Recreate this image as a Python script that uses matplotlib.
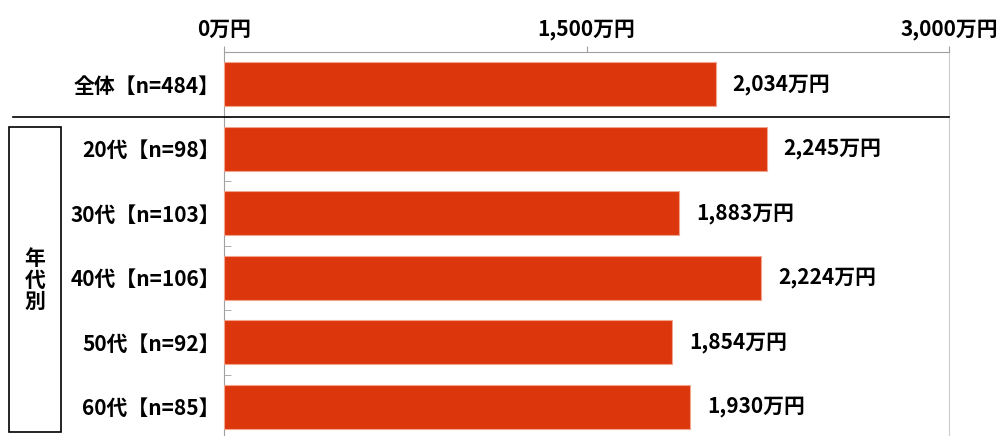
import matplotlib
matplotlib.use("Agg")
import matplotlib.pyplot as plt
import numpy as np

plt.rcParams["font.family"] = ["Noto Sans CJK JP", "DejaVu Sans"]
plt.rcParams["font.weight"] = "bold"

categories = ["全体【n=484】", "20代【n=98】", "30代【n=103】",
              "40代【n=106】", "50代【n=92】", "60代【n=85】"]
values = [2034, 2245, 1883, 2224, 1854, 1930]
xticks = [0, 1500, 3000]
xtick_labels = ["0万円", "1,500万円", "3,000万円"]

FS = 15

W, H = 1002, 436
fig = plt.figure(figsize=(W / 100, H / 100), dpi=100)
# axes in pixel terms: left 224, right 949, top 52, bottom ~439
ax = fig.add_axes([224 / W, (H - 439) / H, (949 - 224) / W, (439 - 52) / H])

y = np.arange(len(categories))
ax.barh(y, values, height=0.68, color="#dc360c", edgecolor="#f3a48e",
        linewidth=0.8, zorder=3)

ax.set_xlim(0, 3000)
ax.set_ylim(len(categories) - 0.5, -0.5)

ax.xaxis.tick_top()
ax.set_xticks(xticks)
ax.set_xticklabels(xtick_labels, fontsize=FS, fontweight="bold")
ax.tick_params(axis="x", length=4, color="#a0a0a0", pad=5)

ax.set_yticks(y)
ax.set_yticklabels(categories, fontsize=FS, fontweight="bold")
ax.tick_params(axis="y", length=0, pad=3)
ax.set_yticks(np.arange(0.5, len(categories) - 1, 1), minor=True)
ax.tick_params(axis="y", which="minor", direction="in", length=5,
               color="#a0a0a0")

for s in ["top", "left"]:
    ax.spines[s].set_color("#a0a0a0")
ax.spines["right"].set_color("#cccccc")
ax.spines["bottom"].set_visible(False)

for yi, v in zip(y, values):
    ax.text(v + 70, yi, f"{v:,}万円", va="center", ha="left",
            fontsize=FS, fontweight="bold")

# separator between total and age groups
fig.add_artist(plt.Line2D([13 / W, 949 / W], [1 - 117 / H, 1 - 117 / H],
                          color="black", linewidth=1.2))
# group box
fig.add_artist(plt.Rectangle((9 / W, 1 - 432 / H), 52 / W, 305 / H,
                             fill=False, edgecolor="black", linewidth=1.2))
fig.text(35 / W, 1 - 280 / H, "年\n代\n別", ha="center", va="center",
         fontsize=FS, fontweight="bold", linespacing=1.05)

fig.savefig("out.png", dpi=100)
